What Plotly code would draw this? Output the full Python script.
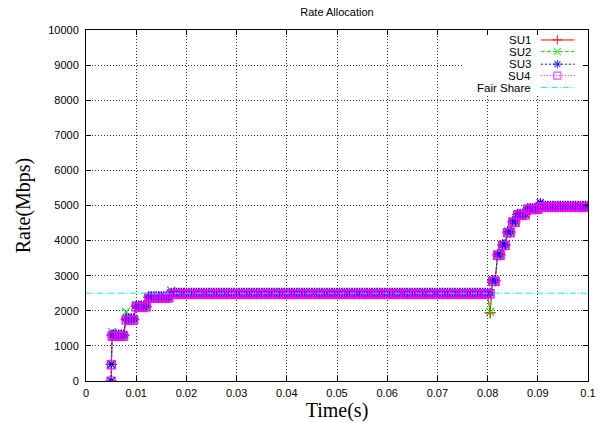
import plotly.graph_objects as go

# ---------------- data ----------------
time_rise = [0.005, 0.00505, 0.0052, 0.0055, 0.006, 0.0065, 0.007, 0.0075, 0.008, 0.0085,
             0.009, 0.0095, 0.01, 0.0105, 0.011, 0.0115, 0.012, 0.0125, 0.013, 0.0135,
             0.014, 0.0145, 0.015, 0.0155, 0.016, 0.0165]
time_flat = [0.017, 0.0175, 0.018, 0.0185, 0.019, 0.0195, 0.02, 0.0205, 0.021, 0.0215,
             0.022, 0.0225, 0.023, 0.0235, 0.024, 0.0245, 0.025, 0.0255, 0.026, 0.0265,
             0.027, 0.0275, 0.028, 0.0285, 0.029, 0.0295, 0.03, 0.0305, 0.031, 0.0315,
             0.032, 0.0325, 0.033, 0.0335, 0.034, 0.0345, 0.035, 0.0355, 0.036, 0.0365,
             0.037, 0.0375, 0.038, 0.0385, 0.039, 0.0395, 0.04, 0.0405, 0.041, 0.0415,
             0.042, 0.0425, 0.043, 0.0435, 0.044, 0.0445, 0.045, 0.0455, 0.046, 0.0465,
             0.047, 0.0475, 0.048, 0.0485, 0.049, 0.0495, 0.05, 0.0505, 0.051, 0.0515,
             0.052, 0.0525, 0.053, 0.0535, 0.054, 0.0545, 0.055, 0.0555, 0.056, 0.0565,
             0.057, 0.0575, 0.058, 0.0585, 0.059, 0.0595, 0.06, 0.0605, 0.061, 0.0615,
             0.062, 0.0625, 0.063, 0.0635, 0.064, 0.0645, 0.065, 0.0655, 0.066, 0.0665,
             0.067, 0.0675, 0.068, 0.0685, 0.069, 0.0695, 0.07, 0.0705, 0.071, 0.0715,
             0.072, 0.0725, 0.073, 0.0735, 0.074, 0.0745, 0.075, 0.0755, 0.076, 0.0765,
             0.077, 0.0775, 0.078, 0.0785, 0.079, 0.0795, 0.08, 0.0805]
time_late = [0.081, 0.0815, 0.082, 0.0825, 0.083, 0.0835, 0.084, 0.0845, 0.085, 0.0855,
             0.086, 0.0865, 0.087, 0.0875, 0.088, 0.0885, 0.089, 0.0895, 0.09, 0.0905,
             0.091, 0.0915, 0.092, 0.0925, 0.093, 0.0935, 0.094, 0.0945, 0.095, 0.0955,
             0.096, 0.0965, 0.097, 0.0975, 0.098, 0.0985, 0.099, 0.0995, 0.1]

su1_rise = [0, 470, 1290, 1290, 1290, 1290, 1290, 1290, 1750, 1750, 1750, 1750, 2120,
            2120, 2120, 2120, 2120, 2380, 2380, 2380, 2380, 2380, 2380, 2380, 2380, 2380]
su2_rise = [0, 470, 1400, 1290, 1290, 1290, 1290, 1290, 1970, 1750, 1750, 1750, 2160,
            2120, 2120, 2120, 2120, 2380, 2380, 2380, 2380, 2380, 2380, 2380, 2380, 2380]
su3_rise = [0, 480, 1330, 1330, 1330, 1330, 1330, 1330, 1790, 1790, 1790, 1790, 2160,
            2160, 2160, 2160, 2160, 2420, 2420, 2420, 2420, 2420, 2420, 2420, 2420, 2420]
su4_rise = [0, 460, 1280, 1280, 1280, 1280, 1280, 1280, 1740, 1740, 1740, 1740, 2110,
            2110, 2110, 2110, 2110, 2370, 2370, 2370, 2370, 2370, 2370, 2370, 2370, 2370]

su1_flat = [2490, 2490, 2490, 2490, 2490, 2490, 2490, 2490, 2490, 2490, 2490, 2490, 2490, 2490, 2490, 2490,
            2490, 2490, 2490, 2490, 2490, 2490, 2490, 2490, 2490, 2490, 2490, 2490, 2490, 2490, 2490, 2490,
            2490, 2490, 2490, 2490, 2490, 2490, 2490, 2490, 2490, 2490, 2490, 2490, 2490, 2490, 2490, 2490,
            2490, 2490, 2490, 2490, 2490, 2490, 2490, 2490, 2490, 2490, 2490, 2490, 2490, 2490, 2490, 2490,
            2490, 2490, 2490, 2490, 2490, 2490, 2490, 2490, 2490, 2490, 2490, 2490, 2490, 2490, 2490, 2490,
            2490, 2490, 2490, 2490, 2490, 2490, 2490, 2490, 2490, 2490, 2490, 2490, 2490, 2490, 2490, 2490,
            2490, 2490, 2490, 2490, 2490, 2490, 2490, 2490, 2490, 2490, 2490, 2490, 2490, 2490, 2490, 2490,
            2490, 2490, 2490, 2490, 2490, 2490, 2490, 2490, 2490, 2490, 2490, 2490, 2490, 2490, 2490, 1940]
su2_flat = [2570, 2490, 2490, 2490, 2490, 2490, 2490, 2490, 2490, 2490, 2490, 2490, 2490, 2490, 2490, 2490,
            2490, 2490, 2490, 2490, 2490, 2490, 2490, 2490, 2490, 2490, 2490, 2490, 2490, 2490, 2490, 2490,
            2490, 2490, 2490, 2490, 2490, 2490, 2490, 2490, 2490, 2490, 2490, 2490, 2490, 2490, 2490, 2490,
            2490, 2490, 2490, 2490, 2490, 2490, 2490, 2490, 2490, 2490, 2490, 2490, 2490, 2490, 2490, 2490,
            2490, 2490, 2490, 2490, 2490, 2490, 2490, 2490, 2490, 2490, 2490, 2490, 2490, 2490, 2490, 2490,
            2490, 2490, 2490, 2490, 2490, 2490, 2490, 2490, 2490, 2490, 2490, 2490, 2490, 2490, 2490, 2490,
            2490, 2490, 2490, 2490, 2490, 2490, 2490, 2490, 2490, 2490, 2490, 2490, 2490, 2490, 2490, 2490,
            2490, 2490, 2490, 2490, 2490, 2490, 2490, 2490, 2490, 2490, 2490, 2490, 2490, 2490, 2490, 1960]
su3_flat = [2520, 2520, 2520, 2520, 2520, 2520, 2520, 2520, 2520, 2520, 2520, 2520, 2520, 2520, 2520, 2520,
            2520, 2520, 2520, 2520, 2520, 2520, 2520, 2520, 2520, 2520, 2520, 2520, 2520, 2520, 2520, 2520,
            2520, 2520, 2520, 2520, 2520, 2520, 2520, 2520, 2520, 2520, 2520, 2520, 2520, 2520, 2520, 2520,
            2520, 2520, 2520, 2520, 2520, 2520, 2520, 2520, 2520, 2520, 2520, 2520, 2520, 2520, 2520, 2520,
            2520, 2520, 2520, 2520, 2520, 2520, 2520, 2520, 2520, 2520, 2520, 2520, 2520, 2520, 2520, 2520,
            2520, 2520, 2520, 2520, 2520, 2520, 2520, 2520, 2520, 2520, 2520, 2520, 2520, 2520, 2520, 2520,
            2520, 2520, 2520, 2520, 2520, 2520, 2520, 2520, 2520, 2520, 2520, 2520, 2520, 2520, 2520, 2520,
            2520, 2520, 2520, 2520, 2520, 2520, 2520, 2520, 2520, 2520, 2520, 2520, 2520, 2520, 2520, 2520]
su4_flat = [2480, 2480, 2480, 2480, 2480, 2480, 2480, 2480, 2480, 2480, 2480, 2480, 2480, 2480, 2480, 2480,
            2480, 2480, 2480, 2480, 2480, 2480, 2480, 2480, 2480, 2480, 2480, 2480, 2480, 2480, 2480, 2480,
            2480, 2480, 2480, 2480, 2480, 2480, 2480, 2480, 2480, 2480, 2480, 2480, 2480, 2480, 2480, 2480,
            2480, 2480, 2480, 2480, 2480, 2480, 2480, 2480, 2480, 2480, 2480, 2480, 2480, 2480, 2480, 2480,
            2480, 2480, 2480, 2480, 2480, 2480, 2480, 2480, 2480, 2480, 2480, 2480, 2480, 2480, 2480, 2480,
            2480, 2480, 2480, 2480, 2480, 2480, 2480, 2480, 2480, 2480, 2480, 2480, 2480, 2480, 2480, 2480,
            2480, 2480, 2480, 2480, 2480, 2480, 2480, 2480, 2480, 2480, 2480, 2480, 2480, 2480, 2480, 2480,
            2480, 2480, 2480, 2480, 2480, 2480, 2480, 2480, 2480, 2480, 2480, 2480, 2480, 2480, 2480, 2480]

su1_late = [2850, 2850, 3590, 3590, 3870, 3870, 4240, 4240, 4530, 4530, 4740, 4740, 4740, 4740,
            4900, 4900, 4900, 4900, 4900, 4970, 4970, 4970, 4970, 4970, 4970, 4970, 4970, 4970,
            4970, 4970, 4970, 4970, 4970, 4970, 4970, 4970, 4970, 4970, 4970]
su2_late = [2850, 2850, 3590, 3590, 3870, 3870, 4240, 4240, 4530, 4530, 4740, 4740, 4740, 4740,
            4900, 4900, 4900, 4900, 4900, 4970, 4970, 4970, 4970, 4970, 4970, 4970, 4970, 4970,
            4970, 4970, 4970, 4970, 4970, 4970, 4970, 4970, 4970, 4970, 4970]
su3_late = [2880, 2880, 3620, 3620, 3900, 3900, 4270, 4270, 4560, 4560, 4770, 4770, 4770, 4770,
            4930, 4930, 4930, 4930, 4930, 5080, 5000, 5000, 5000, 5000, 5000, 5000, 5000, 5000,
            5000, 5000, 5000, 5000, 5000, 5000, 5000, 5000, 5000, 5000, 5000]
su4_late = [2840, 2840, 3580, 3580, 3860, 3860, 4230, 4230, 4520, 4520, 4730, 4730, 4730, 4730,
            4890, 4890, 4890, 4890, 4890, 4960, 4960, 4960, 4960, 4960, 4960, 4960, 4960, 4960,
            4960, 4960, 4960, 4960, 4960, 4960, 4960, 4960, 4960, 4960, 4960]

fair_time = [0.0, 0.1]
fair_rate = [2500, 2500]

series_names = ["SU1", "SU2", "SU3", "SU4", "Fair Share"]
x_tick_vals = [0, 0.01, 0.02, 0.03, 0.04, 0.05, 0.06, 0.07, 0.08, 0.09, 0.1]
x_tick_text = ["0", "0.01", "0.02", "0.03", "0.04", "0.05", "0.06", "0.07", "0.08", "0.09", "0.1"]
y_tick_vals = [0, 1000, 2000, 3000, 4000, 5000, 6000, 7000, 8000, 9000, 10000]
y_tick_text = ["0", "1000", "2000", "3000", "4000", "5000", "6000", "7000", "8000", "9000", "10000"]

time_s = time_rise + time_flat + time_late
su1 = su1_rise + su1_flat + su1_late
su2 = su2_rise + su2_flat + su2_late
su3 = su3_rise + su3_flat + su3_late
su4 = su4_rise + su4_flat + su4_late

# ---------------- styles ----------------
SANS = "Liberation Sans, Arial, sans-serif"
SERIF = "Liberation Serif, Times New Roman, serif"
styles = [
    dict(color="#ff0000", dash="solid", symbol="cross-thin-open"),
    dict(color="#00dd00", dash="4px,2px", symbol="x-thin-open"),
    dict(color="#0000ff", dash="2px,2px", symbol="asterisk-open"),
    dict(color="#ff00ff", dash="1px,2px", symbol="square-open"),
    dict(color="#00ffff", dash="6px,2px,1px,2px", symbol=None),
]

fig = go.Figure()
for name, vals, st in zip(series_names[:4], [su1, su2, su3, su4], styles[:4]):
    fig.add_trace(go.Scatter(
        x=time_s, y=vals, name=name, mode="lines+markers",
        line=dict(color=st["color"], width=1, dash=st["dash"]),
        marker=dict(symbol=st["symbol"], size=8, color=st["color"],
                    line=dict(color=st["color"], width=1.2)),
        showlegend=False,
    ))
fig.add_trace(go.Scatter(
    x=fair_time, y=fair_rate, name="Fair Share", mode="lines",
    line=dict(color=styles[4]["color"], width=1, dash=styles[4]["dash"]),
    showlegend=False,
))

# ---------------- custom gnuplot-style key (text left, sample right) ----------------
key_rows = [0.9716, 0.9384, 0.9026, 0.8702, 0.8361]
key_sample_x = [0.906, 0.939, 0.973]
key_text_x = 0.890
for name, st, ky in zip(series_names, styles, key_rows):
    has_marker = st["symbol"] is not None
    fig.add_trace(go.Scatter(
        x=key_sample_x, y=[ky, ky, ky], xaxis="x2", yaxis="y2",
        mode="lines+markers" if has_marker else "lines",
        line=dict(color=st["color"], width=1, dash=st["dash"]),
        marker=dict(symbol=st["symbol"] or "circle", size=[0, 7, 0], color=st["color"],
                    line=dict(color=st["color"], width=1.2)),
        showlegend=False, hoverinfo="skip",
    ))
    fig.add_annotation(x=key_text_x, y=ky, xref="paper", yref="paper", text=name,
                       showarrow=False, xanchor="right", yanchor="middle",
                       font=dict(family=SANS, size=11.5, color="black"))

# white key box hides grid behind key (as gnuplot does)
fig.add_shape(type="rect", xref="x", yref="y", x0=0.0751, x1=0.1, y0=8125, y1=10000,
              fillcolor="white", line=dict(width=0), layer="between")

axis_common = dict(
    showline=True, linecolor="black", linewidth=1, mirror="allticks",
    ticks="inside", ticklen=5, tickcolor="black", tickwidth=1,
    showgrid=True, gridcolor="#333333", gridwidth=1, griddash="1px,2px",
    zeroline=False, tickfont=dict(family=SANS, size=11, color="black"),
)

fig.update_layout(
    width=604, height=423,
    margin=dict(l=86, r=8, t=30, b=41),
    paper_bgcolor="white", plot_bgcolor="white",
    title=dict(text="Rate Allocation", x=0.5, xref="paper", xanchor="center",
               y=1 - 12 / 423, yanchor="middle",
               font=dict(family=SANS, size=11, color="black")),
    xaxis=dict(range=[0, 0.1], tickvals=x_tick_vals, ticktext=x_tick_text,
               title=dict(text="Time(s)", font=dict(family=SERIF, size=20, color="black"), standoff=2),
               ticklabelstandoff=2, **axis_common),
    yaxis=dict(range=[0, 10000], tickvals=y_tick_vals, ticktext=y_tick_text,
               title=dict(text="Rate(Mbps)", font=dict(family=SERIF, size=20, color="black"), standoff=12),
               ticklabelstandoff=4, **axis_common),
    xaxis2=dict(range=[0, 1], overlaying="x", visible=False, fixedrange=True),
    yaxis2=dict(range=[0, 1], overlaying="y", visible=False, fixedrange=True),
    showlegend=False,
    hovermode=False,
)

fig.write_html("out.html",
               config={"displayModeBar": False, "staticPlot": True},
               post_script="document.body.style.margin='0';document.body.style.overflow='hidden';")
